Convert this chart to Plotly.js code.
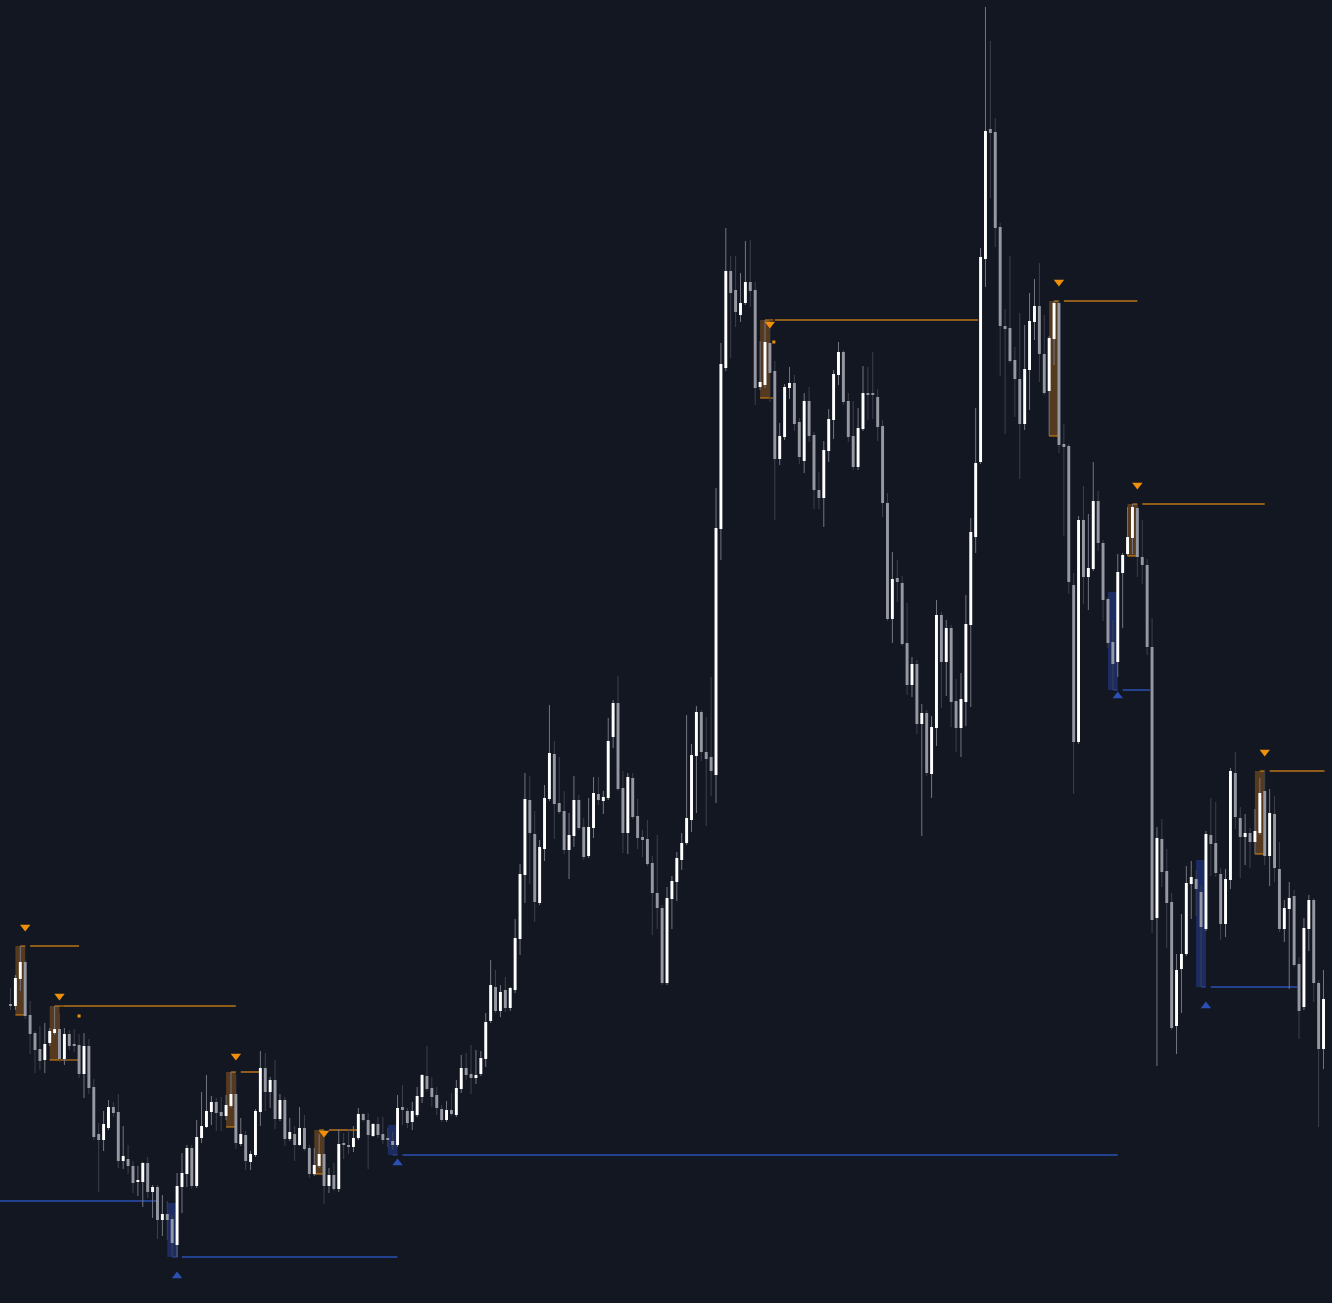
<!DOCTYPE html>
<html><head><meta charset="utf-8">
<script src="https://cdn.plot.ly/plotly-3.0.1.min.js"></script>
<style>html,body{margin:0;padding:0;background:#131722;overflow:hidden}#chart{width:1332px;height:1303px}</style>
</head><body><div id="chart"></div>
<script>
// OHLC values (arbitrary price units), one entry per bar
const open = [
296,294,321,338,285,267,251,240,257,267,
271,241,266,256,255,226,254,213,166,160,
172,193,188,139,141,134,118,118,137,108,
113,80,86,81,55,113,126,152,114,162,
173,188,198,188,184,194,206,156,165,138,
145,188,232,208,220,181,200,161,166,155,
172,152,126,134,146,114,125,111,157,155,
153,162,186,180,164,176,166,162,159,155,
193,189,178,185,203,224,212,205,191,180,
190,185,211,232,226,222,226,241,279,313,
289,310,292,310,361,425,500,466,397,451,
501,546,497,489,450,464,500,473,444,472,
506,499,502,563,597,512,467,522,484,463,
461,437,407,392,317,401,418,440,457,480,
544,588,548,543,525,771,932,1029,1010,985,
997,1018,1010,913,915,957,929,841,863,912,
917,878,839,899,865,810,802,849,880,925,
948,899,864,833,871,907,907,903,874,797,
681,722,717,657,615,636,576,587,526,572,
685,638,672,599,572,598,675,763,838,1041,
1171,1168,1073,974,972,940,921,876,930,978,
994,946,909,961,997,856,854,715,558,780,
723,731,799,757,701,658,638,727,746,762,
792,743,735,653,382,461,429,398,274,331,
346,416,421,408,371,465,457,426,376,420,
527,482,463,467,458,467,509,444,486,431,
371,391,404,336,293,371,400,317,251];
const high = [
312,325,354,340,299,269,274,277,272,294,
286,272,270,271,266,267,261,221,177,189,
200,198,206,174,155,139,134,138,143,115,
115,105,99,85,127,147,155,155,180,208,
225,204,202,203,205,228,225,182,169,149,
191,249,247,223,240,206,203,182,174,193,
185,155,152,166,170,132,137,171,167,171,
174,192,187,187,177,183,183,172,168,205,
215,192,198,213,226,254,223,213,195,199,
207,220,245,247,255,250,249,287,340,330,
315,323,313,381,436,527,524,489,460,515,
595,559,543,509,487,524,505,482,502,523,
523,509,582,600,624,529,527,527,501,470,
480,444,465,395,413,424,448,467,585,556,
594,590,583,623,812,957,1072,1044,1044,1027,
1059,1060,1018,959,980,980,939,877,916,933,
925,882,907,913,868,828,859,891,930,958,
950,907,899,892,934,933,948,911,880,807,
748,740,724,697,643,640,596,590,584,700,
688,680,675,621,627,705,782,892,1052,1293,
1259,1182,1077,991,1044,953,987,975,1007,1021,
1037,985,964,999,1000,876,856,727,784,814,
786,838,809,760,703,680,746,747,793,796,
795,780,741,682,473,481,451,407,346,386,
434,439,430,415,469,502,498,432,431,532,
548,493,486,472,491,522,529,511,504,458,
400,418,410,343,382,405,402,320,330];
const low = [
290,290,309,281,246,227,230,227,254,265,
238,235,250,248,222,202,206,160,108,149,
170,183,132,131,126,107,104,93,102,82,
61,64,60,43,43,87,113,111,112,157,
172,175,169,169,180,192,151,154,130,130,
143,174,189,192,171,179,154,159,139,154,
149,122,124,132,96,107,109,108,141,146,
148,160,178,131,163,162,156,153,150,153,
175,172,170,183,197,209,193,185,178,178,
184,183,207,220,206,216,224,233,277,287,
283,288,289,307,345,397,416,378,395,439,
499,461,486,446,421,453,470,440,442,462,
495,486,500,552,509,447,446,481,451,443,
434,365,371,315,315,371,399,430,455,468,
487,539,474,504,497,740,929,942,973,978,
995,993,895,910,912,898,780,835,860,901,
869,836,827,858,791,791,773,838,861,915,
895,858,830,830,869,880,881,859,783,679,
657,698,654,605,603,566,464,524,502,554,
592,604,573,548,543,574,593,747,836,1013,
1102,1053,924,866,937,883,821,870,890,960,
918,905,864,935,847,764,706,506,556,696,
690,729,749,679,652,610,623,672,744,746,
723,716,645,367,234,413,352,270,246,287,
344,381,384,313,369,424,423,360,363,411,
471,422,435,432,446,465,435,414,418,368,
358,311,333,261,290,349,298,173,231];
const close = [
294,322,338,284,266,250,239,256,269,271,
241,266,254,254,226,254,212,163,160,176,
193,187,139,144,134,117,120,137,108,113,
80,86,80,57,114,127,152,114,163,174,
189,198,187,184,195,206,157,166,139,146,
189,232,208,220,181,200,161,168,155,172,
151,126,135,146,114,125,111,156,155,153,
162,186,180,165,176,165,160,160,155,192,
190,177,189,204,225,211,203,192,180,190,
186,212,232,225,222,225,242,278,315,289,
308,292,312,362,426,501,467,398,453,502,
547,496,488,450,465,500,472,443,473,507,
500,503,559,597,511,467,523,483,462,460,
436,407,392,317,402,419,442,457,482,545,
588,548,541,529,772,936,1029,1007,988,997,
1018,1009,912,918,958,927,841,864,913,917,
876,843,899,864,810,802,850,881,926,948,
898,863,833,872,907,905,905,873,797,681,
721,718,656,615,636,576,587,527,573,685,
638,672,598,572,601,676,768,837,1043,1169,
1167,1072,974,971,939,921,876,931,979,994,
946,907,962,997,855,853,718,558,780,723,
732,799,757,700,657,636,728,745,763,793,
743,735,653,380,462,428,397,272,330,346,
417,423,411,373,466,456,427,376,421,529,
483,463,467,458,469,507,444,487,432,371,
392,402,335,289,372,400,317,251,301];

// Bearish (orange) zones: signal bar index, zone top/bottom, level line end, marker price, frame end
const bearBar = [3, 10, 46, 64, 155, 214, 230, 256];
const bearTop = [354, 294, 228, 170, 980, 999, 796, 529];
const bearBottom = [285, 240, 173, 126, 902, 864, 744, 446];
const bearLineEnd = [14, 46, 51, 71, 197.5, 230, 256, 268.2];
const bearMarkY = [373, 304, 244, 167, 976, 1018, 815, 548];
const bearFrameEnd = [3, 14, 46, 64, 155.7, 214, 230, 256];

// Bullish (blue) zones
const bullBar = [34, 79, 226, 244];
const bullTop = [97, 175, 708, 440];
const bullBottom = [43, 145, 610, 313];
const bullLineEnd = [79, 226, 232.6, 262.6];
const bullMarkY = [24, 137, 604, 294];

// Earlier bullish level running in from the left edge
const priorLevelStart = [-3];
const priorLevelEnd = [29.7];
const priorLevelY = [99];

// Small orange dots
const dotX = [14, 155.8];
const dotY = [284, 958];

const BG = '#131722';
const UP = '#ffffff', DOWN = '#9598a1';
const UP_WICK = '#757883', DOWN_WICK = '#3e414c';
const ORANGE = '#f0900a', ORANGE_LINE = '#8f5c1c', ORANGE_FILL = 'rgba(235,140,25,0.31)', ORANGE_EDGE = '#e08a12';
const BLUE = '#2b4fb2', BLUE_LINE = '#24418f', BLUE_FILL = 'rgba(40,75,190,0.42)', BLUE_EDGE = '#2a4aa8';

const idx = open.map((_, i) => i);
const upIdx = idx.filter(i => close[i] >= open[i]);
const dnIdx = idx.filter(i => close[i] < open[i]);

function wickTrace(ids, color) {
  return {type: 'bar', x: ids, base: ids.map(i => low[i]), y: ids.map(i => high[i] - low[i]),
    width: 0.2, marker: {color: color, line: {width: 0}}, hoverinfo: 'skip'};
}
function bodyTrace(ids, color) {
  return {type: 'bar', x: ids, base: ids.map(i => Math.min(open[i], close[i])),
    y: ids.map(i => Math.abs(close[i] - open[i])),
    width: 0.6, marker: {color: color, line: {width: 0}}, hoverinfo: 'skip'};
}

const traces = [
  wickTrace(dnIdx, DOWN_WICK),
  wickTrace(upIdx, UP_WICK),
  bodyTrace(dnIdx, DOWN),
  bodyTrace(upIdx, UP),
  {type: 'scatter', mode: 'markers', x: bearBar, y: bearMarkY,
   marker: {symbol: 'triangle-down', size: 9, color: ORANGE}, hoverinfo: 'skip'},
  {type: 'scatter', mode: 'markers', x: bullBar, y: bullMarkY,
   marker: {symbol: 'triangle-up', size: 9, color: BLUE}, hoverinfo: 'skip'},
  {type: 'scatter', mode: 'markers', x: dotX, y: dotY,
   marker: {symbol: 'square', size: 3, color: ORANGE}, hoverinfo: 'skip'}
];

const shapes = [];
function hline(x0, x1, y, color, w) {
  shapes.push({type: 'line', xref: 'x', yref: 'y', x0: x0, x1: x1, y0: y, y1: y,
    line: {color: color, width: w}, layer: 'below'});
}
bearBar.forEach((k, j) => {
  shapes.push({type: 'rect', xref: 'x', yref: 'y', x0: k - 2, x1: k, y0: bearBottom[j], y1: bearTop[j],
    fillcolor: ORANGE_FILL, line: {width: 0}, layer: 'below'});
  hline(k - 1, bearFrameEnd[j], bearTop[j], ORANGE_EDGE, 1);
  hline(k - 2, bearFrameEnd[j], bearBottom[j], ORANGE_EDGE, 1);
  hline(k + 1, bearLineEnd[j], bearTop[j], ORANGE_LINE, 2);
});
bullBar.forEach((k, j) => {
  shapes.push({type: 'rect', xref: 'x', yref: 'y', x0: k - 2, x1: k, y0: bullBottom[j], y1: bullTop[j],
    fillcolor: BLUE_FILL, line: {width: 0}, layer: 'below'});
  hline(k - 1, k, bullBottom[j], BLUE_EDGE, 1);
  hline(k + 1, bullLineEnd[j], bullBottom[j], BLUE_LINE, 2);
});
priorLevelY.forEach((y, j) => hline(priorLevelStart[j], priorLevelEnd[j], y, BLUE_LINE, 2));

const layout = {
  width: 1332, height: 1303,
  margin: {l: 0, r: 0, t: 0, b: 0, pad: 0},
  paper_bgcolor: BG, plot_bgcolor: BG,
  barmode: 'overlay', showlegend: false,
  xaxis: {range: [-2.1432, 269.73], visible: false, fixedrange: true},
  yaxis: {range: [-3, 1300], visible: false, fixedrange: true},
  shapes: shapes
};
Plotly.newPlot('chart', traces, layout, {staticPlot: true, displayModeBar: false});
</script>
</body></html>
